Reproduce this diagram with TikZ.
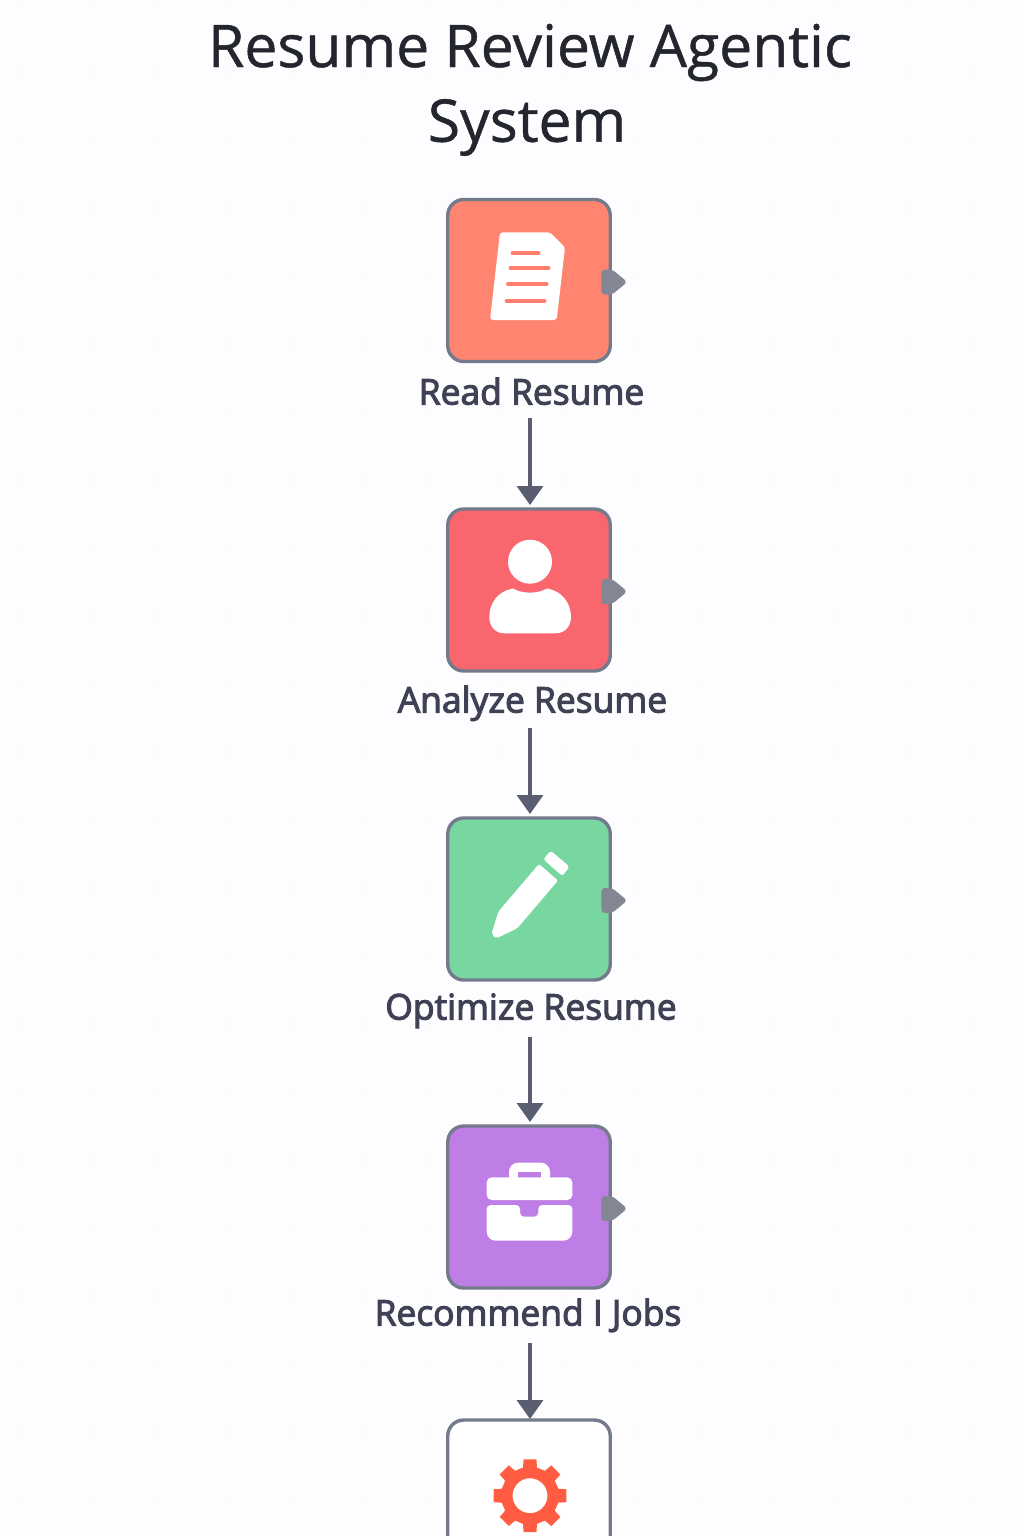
\documentclass[tikz,border=0pt]{standalone}
\usepackage{fontspec}
\setmainfont[FakeBold=0.8]{Open Sans}
\newfontfamily\labfont[FakeBold=3]{Open Sans}
\usetikzlibrary{arrows.meta}
\definecolor{bgc}{HTML}{FDFCFE}
\definecolor{dotc}{HTML}{F5F4F7}
\definecolor{bord}{HTML}{737A8C}
\definecolor{portc}{HTML}{838794}
\definecolor{arrc}{HTML}{5B5E70}
\definecolor{titlec}{HTML}{23262F}
\definecolor{labc}{HTML}{3F4254}
\definecolor{cora}{HTML}{FF8570}
\definecolor{corl}{HTML}{FF7F6C}
\definecolor{redb}{HTML}{F9666E}
\definecolor{grn}{HTML}{78D6A0}
\definecolor{pur}{HTML}{BE7EE6}
\definecolor{gearc}{HTML}{FF5C42}
\tikzset{
  x=1pt,y=-1pt,
  iconbox/.style={draw=bord,line width=3.4pt,rounded corners=16pt,minimum width=162.5pt,minimum height=162pt,inner sep=0pt,outer sep=0pt},
  lab/.style={font=\labfont\fontsize{35.4}{40}\selectfont,text=labc,inner sep=0pt,anchor=base},
  ttl/.style={font=\bfseries\fontsize{58.8}{70}\selectfont,text=titlec,inner sep=0pt},
  conn/.style={draw=arrc,line width=3.4pt,-{Triangle[length=19pt,width=26pt]}},
  portshape/.style={fill=portc,rounded corners=3.5pt},
  glyph/.style={fill=white,draw=none},
}
\renewcommand{\bfdefault}{m}
\newcommand{\portat}[1]{\path[portshape] ([yshift=11pt]#1.east) ++(-9,0) -- ++(11,0) -- ++(15,12.5) -- ++(-15,12.5) -- ++(-11,0) -- cycle;}
\begin{document}
\begin{tikzpicture}
\useasboundingbox (0,0) rectangle (1024,1536);
\clip (0,0) rectangle (1024,1536);
\fill[bgc] (0,0) rectangle (1024,1536);
\foreach \i in {0,...,15}{\foreach \j in {0,...,22}{
  \fill[dotc] (22+68*\i,4+68*\j) circle (1.2pt);}}
\node[ttl] (t1) at (530,52.5) {Resume Review Agentic};
\node[ttl] (t2) at (527,127.5) {System};
\node[iconbox,fill=cora] (b1) at (529,280.5) {};
\node[iconbox,fill=redb] (b2) at (529,590) {};
\node[iconbox,fill=grn] (b3) at (529,899) {};
\node[iconbox,fill=pur] (b4) at (529,1207) {};
\node[iconbox,fill=white,anchor=north,minimum height=200pt] (b5) at (529,1420) {};
\portat{b1}\portat{b2}\portat{b3}\portat{b4}
\node[lab] (l1) at (531.5,404.5) {Read Resume};
\node[lab] (l2) at (532.5,712.5) {Analyze Resume};
\node[lab] (l3) at (531,1019.5) {Optimize Resume};
\node[lab] (l4) at (528,1325.5) {Recommend I Jobs};
\coordinate (s1) at (530,418);
\coordinate (s2) at (530,728);
\coordinate (s3) at (530,1037);
\coordinate (s4) at (530,1343);
\draw[conn,shorten >=4pt] (s1) -- (s1 |- b2.north);
\draw[conn,shorten >=4pt] (s2) -- (s2 |- b3.north);
\draw[conn,shorten >=4pt] (s3) -- (s3 |- b4.north);
\draw[conn,shorten >=1pt] (s4) -- (s4 |- b5.north);
% document icon
\path[glyph,rounded corners=3pt] (500,232.3) -- (550,232.3) -- (565,247.3) -- (556.7,320) -- (490,320) -- cycle;
\draw[corl,line width=4pt,line cap=round] (512.5,253) -- (538.5,253) (510.5,268) -- (548.5,268) (508,283.7) -- (546.5,283.7) (506.5,301) -- (544.5,301);
% person icon
\fill[white] (530,561.7) circle (22pt);
\path[glyph] (513,588.5) .. controls (522,594) and (538,594) .. (547,588.5)
  .. controls (562,591) and (571,603) .. (571,617)
  .. controls (571,627) and (564,633.3) .. (556,633.3)
  -- (504,633.3) .. controls (496,633.3) and (489.3,627) .. (489.3,617)
  .. controls (489.3,603) and (498,591) .. (513,588.5) -- cycle;
% pencil icon
\path[glyph,rounded corners=2pt] (539,864) -- (558,880.5) -- (517.3,928.3) -- (496,938.5) -- (491.5,934) -- (498.3,911.7) -- cycle;
\path[glyph,rounded corners=2.5pt] (550.7,850.7) -- (569.5,866.7) -- (562.3,876) -- (543.3,859.3) -- cycle;
% briefcase icon
\path[glyph,rounded corners=9pt] (509,1185) -- (509,1162.7) -- (550,1162.7) -- (550,1185) -- cycle;
\fill[pur] (517.7,1171.7) rectangle (541,1178);
\path[glyph,rounded corners=5pt] (486.7,1177.3) -- (572.3,1177.3) -- (572.3,1200) -- (486.7,1200) -- cycle;
\path[glyph,rounded corners=4pt] (486.7,1205) -- (520,1205) -- (520,1216.7) -- (538.3,1216.7) -- (538.3,1205) -- (572.3,1205) [rounded corners=9pt] -- (572.3,1240.7) -- (486.7,1240.7) [rounded corners=4pt] -- cycle;
% gear icon
\path[fill=gearc,even odd rule]
  ({530+29*sin(-14)},{1495.7-29*cos(-14)})
  \foreach \a in {0,45,...,315}{
    -- ({530+37*sin(\a-10)},{1495.7-37*cos(\a-10)})
    -- ({530+37*sin(\a+10)},{1495.7-37*cos(\a+10)})
    -- ({530+29*sin(\a+14)},{1495.7-29*cos(\a+14)})
    -- ({530+29*sin(\a+31)},{1495.7-29*cos(\a+31)})
  } -- cycle (530,1495.7) circle (17.5pt);
\end{tikzpicture}
\end{document}
